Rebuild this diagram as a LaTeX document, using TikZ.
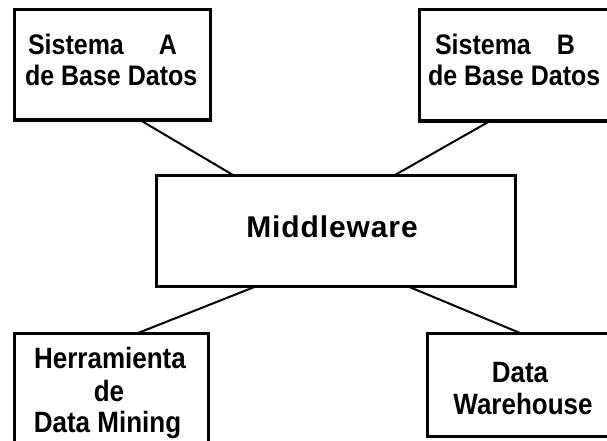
\documentclass[tikz,border=0pt]{standalone}
\usepackage{graphicx}
\usepackage{fontspec}
\setmainfont{Liberation Sans}
\newfontfamily\midfont[LetterSpace=3]{Liberation Sans}
\newcommand{\vstretch}[1]{\scalebox{1}[1.13]{#1}}
\begin{document}
\begin{tikzpicture}[x=1pt,y=-1pt,
  box/.style={draw,line width=3pt,inner sep=0pt,outer sep=0pt,rectangle},
  conn/.style={line width=2pt},
  txt/.style={inner sep=0pt,outer sep=0pt,font=\bfseries\fontsize{26}{30}\selectfont},
  toptxt/.style={inner sep=0pt,outer sep=0pt,font=\bfseries\fontsize{25}{30}\selectfont}]
\useasboundingbox[fill=white] (0,0) rectangle (607,441);
% boxes
\node[box,minimum width=196pt,minimum height=110pt] (A) at (112,65) {};
\node[box,minimum width=201pt,minimum height=111pt] (B) at (519.5,65.5) {};
\node[box,minimum width=359pt,minimum height=111pt] (M) at (335.5,230.5) {};
\node[box,minimum width=194pt,minimum height=127pt] (DM) at (111,396.5) {};
\node[box,minimum width=193pt,minimum height=103pt] (DW) at (523.5,384.5) {};
% texts
\node[toptxt,anchor=base west] (a1) at (28,55) {\vstretch{Sistema\hspace{35pt}A}};
\node[toptxt,anchor=base west] (a2) at (25,86) {\vstretch{de Base Datos}};
\node[toptxt,anchor=base west] (b1) at (435,55) {\vstretch{Sistema\hspace{26pt}B}};
\node[toptxt,anchor=base west] (b2) at (428,86) {\vstretch{de Base Datos}};
\node[inner sep=0pt,anchor=base,font=\midfont\bfseries\fontsize{30}{34}\selectfont] (m1) at (332,237) {Middleware};
\node[txt,anchor=base] (d1) at (110,368) {\vstretch{Herramienta}};
\node[txt,anchor=base] (d2) at (109,401) {\vstretch{de}};
\node[txt,anchor=base] (d3) at (107.5,432) {\vstretch{Data Mining}};
\node[txt,anchor=base] (w1) at (520,382) {\vstretch{Data}};
\node[txt,anchor=base] (w2) at (523,414) {\vstretch{Warehouse}};
% connectors
\draw[conn] ([xshift=28pt]A.south) -- ([xshift=-102.5pt]M.north);
\draw[conn] ([xshift=-29.5pt]B.south) -- ([xshift=59.5pt]M.north);
\draw[conn] ([xshift=-78.5pt]M.south) -- ([xshift=27pt]DM.north);
\draw[conn] ([xshift=71.5pt]M.south) -- ([xshift=-3.5pt]DW.north);
\end{tikzpicture}
\end{document}
